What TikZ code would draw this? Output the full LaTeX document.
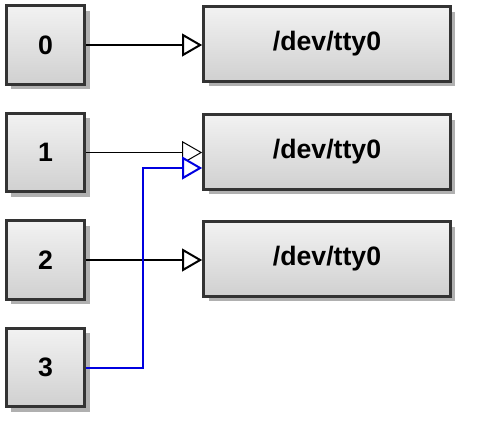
\documentclass[tikz,border=0pt]{standalone}
\usepackage{fontspec}
\setmainfont{Liberation Sans}
\usetikzlibrary{arrows.meta,shadows}

\definecolor{boxedge}{HTML}{333333}
\definecolor{boxtop}{HTML}{F2F2F2}
\definecolor{boxbottom}{HTML}{D0D0D0}
\definecolor{boxshadow}{HTML}{B0B0B0}
\definecolor{redirect}{HTML}{0000E0}

\tikzset{
    fdbox/.style={draw=boxedge, line width=2.25pt, top color=boxtop, bottom color=boxbottom,
        drop shadow={shadow xshift=3.75pt, shadow yshift=-3.75pt, fill=boxshadow, opacity=1},
        font=\fontsize{20}{22}\selectfont\bfseries, inner sep=0pt},
    fdsmall/.style={fdbox, minimum width=59pt, minimum height=59pt},
    fdwide/.style={fdbox, minimum width=185pt, minimum height=56pt},
    fdlink/.style={-{Triangle[open, length=15pt, width=17pt, fill=white]}},
}

\begin{document}
\begin{tikzpicture}[x=0.75pt, y=-0.75pt]
    \useasboundingbox (0,0) rectangle (480,436);

    % LHS descriptors
    \node[fdsmall] (fd-0) at (45.5,45) {0};
    \node[fdsmall] (fd-1) at (45.5,152.5) {1};
    \node[fdsmall] (fd-2) at (45.5,260) {2};
    \node[fdsmall] (fd-3) at (45.5,367.5) {3};

    % RHS devices
    \node[fdwide] (tty-0) at (327,44) {/dev/tty0};
    \node[fdwide] (tty-1) at (327,152) {/dev/tty0};
    \node[fdwide] (tty-2) at (327,259) {/dev/tty0};

    % Links
    \draw[fdlink, line width=1.5pt] (fd-0.east) -- (tty-0.west |- fd-0.east);
    \draw[fdlink, line width=0.75pt] (fd-1.east) -- (tty-1.west |- fd-1.east);
    \draw[fdlink, line width=1.5pt] (fd-2.east) -- (tty-2.west |- fd-2.east);
    \draw[fdlink, line width=1.5pt, color=redirect] (fd-3.east) -- ++(57,0) |- ([yshift=-12pt]tty-1.west);
\end{tikzpicture}
\end{document}
